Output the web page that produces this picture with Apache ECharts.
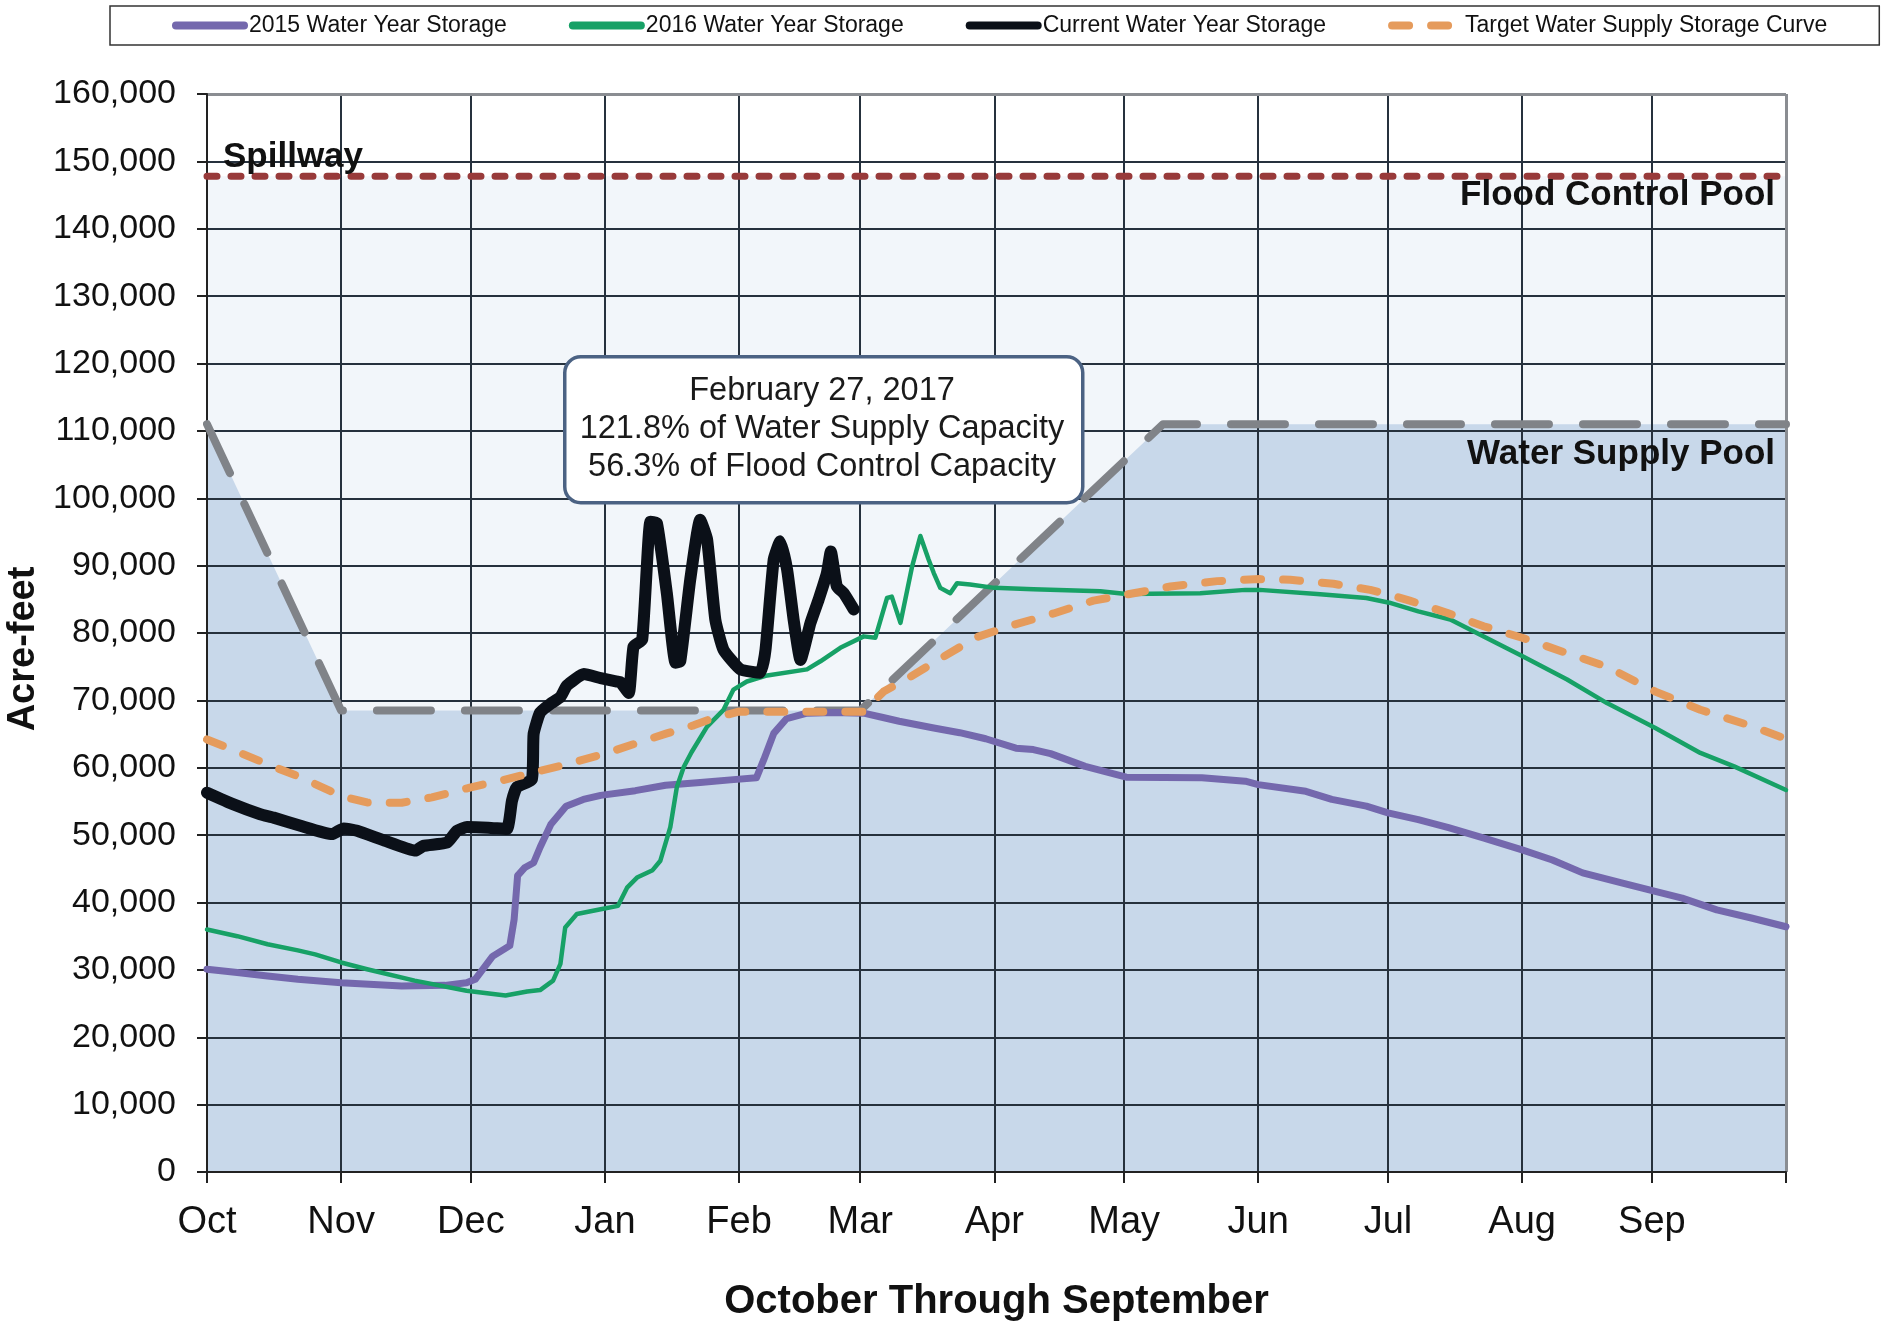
<!DOCTYPE html>
<html>
<head>
<meta charset="utf-8">
<script src="https://cdn.jsdelivr.net/npm/echarts@6/dist/echarts.min.js"></script>
<style>
html,body{margin:0;padding:0;background:#fff;}
#chart{width:1883px;height:1322px;}
</style>
</head>
<body>
<div id="chart"></div>
<script>
// Day of water year (0 = Oct 1) for month starts
const monthStarts = [0, 31, 61, 92, 123, 151, 182, 212, 243, 273, 304, 334];
const monthLabels = ['Oct','Nov','Dec','Jan','Feb','Mar','Apr','May','Jun','Jul','Aug','Sep'];
const tickDays = [0, 31, 61, 92, 123, 151, 182, 212, 243, 273, 304, 334, 365];
const yMin = 0, yMax = 160000, yStep = 10000;

const seriesNames = ['2015 Water Year Storage','2016 Water Year Storage','Current Water Year Storage','Target Water Supply Storage Curve'];

// [day of water year, acre-feet]
const storage2015 = [[0,30100],[7,29600],[14,29100],[21,28600],[31,28100],[45,27600],[55,27700],[60,28100],[62,28600],[64,30300],[66,32000],[70,33600],[71,37500],[71.8,44000],[73.5,45200],[75.5,45900],[77,48200],[79.5,51600],[83,54300],[87,55300],[91,55900],[99,56600],[106,57400],[114,57800],[121,58200],[127,58500],[128.7,61200],[131,65100],[134,67300],[138.7,68100],[145,68200],[151.8,68100],[156,67500],[160,66900],[168,65900],[174,65200],[180,64300],[187,62900],[191,62700],[195,62100],[203,60200],[212.5,58600],[230,58500],[240,58000],[243,57500],[254,56500],[260,55300],[268,54300],[273,53300],[280,52300],[287,51100],[295,49600],[304,47800],[311,46300],[318,44400],[327,42900],[335,41600],[341,40650],[349,38900],[357,37700],[365,36400]];

const storage2016 = [[0,36000],[7,35000],[14,33800],[21,32900],[25,32300],[31,31100],[37,30100],[48,28400],[60,26900],[69,26200],[74,26800],[77,27000],[80,28400],[81.7,30900],[82.8,36300],[85.5,38300],[91,39000],[95,39500],[97.1,42200],[99.4,43700],[103,44800],[104.8,46200],[107.1,51200],[108.6,57100],[110.2,60100],[112,62300],[115.6,66100],[119.4,68600],[121.7,71600],[124.8,72800],[129.5,73700],[138.7,74600],[141.8,75800],[146.4,77800],[151.8,79500],[154.5,79300],[157.2,85200],[158.3,85400],[160.3,81500],[163,89900],[164.9,94400],[166.8,90900],[168,88900],[169.5,86700],[171.8,85900],[173.4,87400],[176.4,87200],[182,86700],[191,86500],[206.5,86200],[212.5,85800],[229.6,85900],[240,86400],[243.3,86400],[256.6,85800],[268,85200],[273.3,84500],[280,83200],[287.4,82000],[295,79500],[304,76600],[314.4,73100],[323.6,69600],[334.8,65900],[345.2,62200],[353,60200],[365,56700]];

const storageCurrent = [[0,56300],[6,54600],[12.3,53100],[15.4,52600],[21.6,51400],[28.9,50150],[31.6,51000],[34.7,50650],[41,49200],[48.2,47700],[50,48400],[55.5,48900],[57.8,50650],[60.1,51200],[65,51100],[69.3,50900],[70.5,55100],[71.6,57100],[75.1,58300],[75.5,65000],[77,68200],[79.4,69500],[81.7,70500],[83.2,72200],[87.1,73900],[91,73300],[94.8,72800],[95.6,72700],[97.5,71100],[98.6,78000],[100.6,79000],[102.5,96500],[104,96300],[106.3,85900],[108.3,75600],[109.4,75800],[111.7,87900],[114,96800],[115.6,93900],[117.5,82000],[119.4,77500],[123.3,74600],[127.9,74100],[129.1,77500],[131,90900],[132.5,93600],[134.1,89400],[135.6,82000],[137.2,76000],[139.5,81500],[141.4,85000],[143.3,88900],[144.2,92100],[145.6,86900],[147.2,85900],[149.5,83500]];

const targetCurve = [[0,64200],[7,62400],[14,60500],[21.6,58600],[31,55800],[37,54850],[45,54800],[52,55600],[61,57100],[68,58100],[75.5,59300],[83,60500],[92,62100],[98.6,63500],[106.3,65100],[112.5,66300],[116.3,67200],[122.7,68300],[151.6,68300],[156.4,71300],[162.6,73500],[170.3,76500],[178,79400],[186.4,81200],[195.7,82900],[204.9,84800],[214.2,85900],[222.7,86900],[233.5,87700],[243.3,88000],[250.4,87900],[260.4,87300],[268.9,86400],[273.3,85700],[278,84800],[286.6,83000],[295.1,81000],[304,79300],[314.4,77000],[323.6,75000],[334.8,71300],[345.2,68600],[356,66400],[365,64300]];

// Flood control rule curve (top of water supply pool)
const ruleCurve = [[0,111000],[31,68500],[151,68500],[221,111000],[365,111000]];
// Spillway level
const spillway = [[0,147800],[365,147800]];

const FONT = '"Liberation Sans", Arial, sans-serif';
const gridColor = '#26313d';

const chart = echarts.init(document.getElementById('chart'), null, {renderer:'canvas'});

const option = {
  animation: false,
  backgroundColor: '#ffffff',
  textStyle: { fontFamily: FONT },
  grid: { left: 207, right: 97, top: 94, bottom: 150, containLabel: false, outerBoundsMode: 'none' },
  legend: {
    data: seriesNames,
    left: 110, top: 6,
    padding: [8, 52, 8, 62],
    itemGap: 62,
    itemWidth: 68,
    itemHeight: 14,
    borderColor: '#333',
    borderWidth: 1.5,
    borderRadius: 0,
    textStyle: { fontSize: 23, color: '#111', fontFamily: FONT },
    itemStyle: { opacity: 0, borderWidth: 0 },
    lineStyle: { width: 8 }
  },
  xAxis: {
    type: 'value', min: 0, max: 365, z: 3,
    axisLine: { show: true, lineStyle: { color: '#222', width: 2 } },
    axisTick: { show: true, customValues: tickDays, length: 11, inside: false, lineStyle: { color: '#222', width: 2 } },
    axisLabel: {
      customValues: monthStarts,
      formatter: function (v) { const i = monthStarts.indexOf(Math.round(v)); return i >= 0 ? monthLabels[i] : ''; },
      fontSize: 38, color: '#111', margin: 32, fontFamily: FONT
    },
    splitLine: { show: false },
    name: 'October Through September', nameLocation: 'middle', nameGap: 110,
    nameTextStyle: { fontSize: 40, fontWeight: 'bold', color: '#111', fontFamily: FONT }
  },
  yAxis: {
    type: 'value', min: yMin, max: yMax, interval: yStep, z: 3,
    axisLine: { show: true, lineStyle: { color: '#222', width: 2 } },
    axisTick: { show: true, length: 10, lineStyle: { color: '#222', width: 2 } },
    axisLabel: {
      fontSize: 34, color: '#111', margin: 31, fontFamily: FONT,
      formatter: function (v) { return v.toLocaleString('en-US'); }
    },
    splitLine: { show: true, lineStyle: { color: gridColor, width: 2 } },
    name: 'Acre-feet', nameLocation: 'middle', nameGap: 156,
    nameTextStyle: { fontSize: 38, fontWeight: 'bold', color: '#111', fontFamily: FONT, padding: [0, 0, 0, -32] }
  },
  series: [
    { // flood control pool fill (up to spillway)
      name: 'floodFill', type: 'line', data: spillway, z: 1, silent: true,
      symbol: 'none', lineStyle: { width: 0, opacity: 0 },
      areaStyle: { color: '#f2f6fa', opacity: 1 },
      markLine: {
        silent: true, symbol: ['none', 'none'], z: 3, animation: false,
        label: { show: false },
        lineStyle: { type: 'solid', color: gridColor, width: 2 },
        data: monthStarts.slice(1).map(function (d) { return { xAxis: d }; })
      }
    },
    { // water supply pool fill
      name: 'supplyFill', type: 'line', data: ruleCurve, z: 1, silent: true,
      symbol: 'none', lineStyle: { width: 0, opacity: 0 },
      areaStyle: { color: '#c8d8ea', opacity: 1 },
      markLine: {
        silent: true, symbol: ['none', 'none'], z: 3, animation: false,
        label: { show: false },
        lineStyle: { type: 'solid', color: '#8a8d92', width: 3 },
        data: [{ xAxis: 365 }, { yAxis: yMax }]
      }
    },
    {
      name: 'spillwayLine', type: 'line', data: spillway, z: 4, silent: true,
      symbol: 'none',
      lineStyle: { color: '#983a3a', width: 7, type: [10, 14], cap: 'round' }
    },
    {
      name: 'ruleLine', type: 'line', data: ruleCurve, z: 4, silent: true,
      symbol: 'none',
      lineStyle: { color: '#808388', width: 8, type: [54, 34], cap: 'round', join: 'round' }
    },
    {
      name: seriesNames[0], type: 'line', data: storage2015, z: 5,
      symbol: 'none', showSymbol: false, color: '#7468ad',
      lineStyle: { color: '#7468ad', width: 7, cap: 'round', join: 'round' }
    },
    {
      name: seriesNames[1], type: 'line', data: storage2016, z: 5,
      symbol: 'none', showSymbol: false, color: '#17a166',
      lineStyle: { color: '#17a166', width: 4.5, cap: 'round', join: 'round' }
    },
    {
      name: seriesNames[2], type: 'line', data: storageCurrent, z: 5,
      symbol: 'none', showSymbol: false, color: '#0b1018', smooth: 0.15,
      lineStyle: { color: '#0b1018', width: 12, cap: 'round', join: 'round' }
    },
    {
      name: seriesNames[3], type: 'line', data: targetCurve, z: 6,
      symbol: 'none', showSymbol: false, color: '#e59b5c',
      lineStyle: { color: '#e59b5c', width: 8, type: [17, 22], cap: 'round', join: 'round' }
    }
  ],
  graphic: [
    { type: 'text', left: 223, top: 140, z: 20, silent: true,
      style: { text: 'Spillway', fontSize: 35, fontWeight: 'bold', fontFamily: FONT, fill: '#111' } },
    { type: 'text', right: 108, top: 178, z: 20, silent: true,
      style: { text: 'Flood Control Pool', fontSize: 35, fontWeight: 'bold', fontFamily: FONT, fill: '#111' } },
    { type: 'text', right: 108, top: 437, z: 20, silent: true,
      style: { text: 'Water Supply Pool', fontSize: 35, fontWeight: 'bold', fontFamily: FONT, fill: '#111' } },
    { type: 'rect', left: 563, top: 355, z: 20, silent: true,
      shape: { width: 518, height: 146, r: 16 },
      style: { fill: '#ffffff', stroke: '#4b6283', lineWidth: 3.5 } },
    { type: 'text', x: 822, y: 429, z: 21, silent: true,
      style: { text: 'February 27, 2017\n121.8% of Water Supply Capacity\n56.3% of Flood Control Capacity',
        align: 'center', verticalAlign: 'middle', fontSize: 32.5, lineHeight: 38, fontFamily: FONT, fill: '#1a1a1a' } }
  ]
};
chart.setOption(option);
</script>
</body>
</html>
